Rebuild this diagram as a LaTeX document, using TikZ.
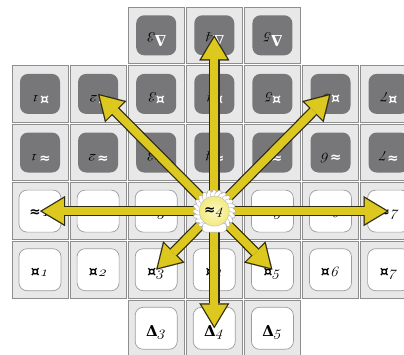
\documentclass[tikz,border=0pt]{standalone}
\usepackage{fontspec}
\usetikzlibrary{arrows.meta}
\newfontfamily\symfont{DejaVu Sans}
\newfontfamily\delfont{DejaVu Serif}
\definecolor{cellfill}{HTML}{E8E8E9}
\definecolor{cellline}{HTML}{8E8E8E}
\definecolor{tiledark}{HTML}{77777A}
\definecolor{tileline}{HTML}{9C9C9C}
\definecolor{arrowfill}{HTML}{DCC81E}
\definecolor{arrowline}{HTML}{2E2A10}
\definecolor{hubfill}{HTML}{F3EA7E}
\definecolor{hublight}{HTML}{FBF7C8}
\newcommand\glyphfont{\fontsize{14}{14}\selectfont}
% slanted old-style index digit (math italic figures)
\newcommand\sdig[1]{\tikz[baseline=0pt]{\pgftransformxslant{0.3}\pgftext[base,left]{\usefont{OML}{cmm}{m}{it}#1}}}
\newcommand\curlbl[1]{{\symfont\bfseries\fontsize{14}{14}\selectfont ¤}\kern0.5pt\sdig{#1}}
\newcommand\apxlbl[1]{{\symfont\bfseries\fontsize{13.5}{13.5}\selectfont ≈}\kern0.8pt\sdig{#1}}
\newcommand\dellbl[1]{{\delfont\bfseries\fontsize{15}{15}\selectfont Δ}\kern0.5pt\sdig{#1}}
\pgfdeclarelayer{grid}
\pgfdeclarelayer{spokes}
\pgfsetlayers{grid,spokes,main}
\begin{document}
\begin{tikzpicture}[x=1pt,y=-1pt,
  cell/.style={draw=cellline, fill=cellfill, line width=0.8pt,
    minimum width=56pt, minimum height=56.6pt, inner sep=0pt},
  darktile/.style={fill=tiledark, rounded corners=8pt, minimum size=40pt, inner sep=0pt},
  lighttile/.style={fill=white, draw=tileline, line width=0.7pt, rounded corners=8pt,
    minimum size=42pt, inner sep=0pt},
  darklabel/.style={text=white, rotate=180, inner sep=0pt, font=\glyphfont},
  lightlabel/.style={text=black, inner sep=0pt, font=\glyphfont},
  arrowback/.style={draw=arrowline, line width=10.5pt,
    -{Triangle[length=25pt,width=30pt,line width=0.1pt]}},
  arrowfront/.style={draw=arrowfill, line width=8pt, shorten >=2.4pt,
    -{Triangle[length=21.4pt,width=25.6pt,line width=0.1pt]}},
  hub/.style={circle, minimum size=30pt, inner sep=0pt, draw=gray!55, line width=0.4pt,
    inner color=hublight, outer color=hubfill, font=\glyphfont},
]
\path[use as bounding box] (0,0) rectangle (404,354);

\begin{pgfonlayer}{grid}
% grid of cells
\foreach \j/\lo/\hi in {0/3/5,1/1/7,2/1/7,3/1/7,4/1/7,5/3/5}{
  \foreach \i in {\lo,...,\hi}{
    \pgfmathsetmacro\cx{40+58.1*(\i-1)}
    \pgfmathsetmacro\cy{35.3+58.6*\j}
    \node[cell] (c-\j-\i) at (\cx,\cy) {};
  }
}
% upper rows: dark tiles with turned labels
\foreach \i in {3,4,5}{
  \node[darktile] (t-0-\i) at (c-0-\i) {};
  \node[darklabel] (l-0-\i) at ([yshift=-5.5pt]t-0-\i.center) {\dellbl{\i}};
}
\foreach \i in {1,...,7}{
  \node[darktile] (t-1-\i) at (c-1-\i) {};
  \node[darklabel] (l-1-\i) at ([yshift=-5.5pt]t-1-\i.center) {\curlbl{\i}};
  \node[darktile] (t-2-\i) at (c-2-\i) {};
  \node[darklabel] (l-2-\i) at ([yshift=-5.5pt]t-2-\i.center) {\apxlbl{\i}};
}
% lower rows: white tiles
\foreach \i in {1,2,3,5,6,7}{
  \node[lighttile] (t-3-\i) at (c-3-\i) {};
  \node[lightlabel] (l-3-\i) at ([yshift=-2pt]t-3-\i.center) {\apxlbl{\i}};
}
\foreach \i in {1,...,7}{
  \node[lighttile] (t-4-\i) at (c-4-\i) {};
  \node[lightlabel] (l-4-\i) at ([yshift=-2.5pt]t-4-\i.center) {\curlbl{\i}};
}
\foreach \i in {3,4,5}{
  \node[lighttile] (t-5-\i) at (c-5-\i) {};
  \node[lightlabel] (l-5-\i) at ([yshift=-3pt]t-5-\i.center) {\dellbl{\i}};
}
\end{pgfonlayer}

% centre piece: wreath, cup and ball
\begin{scope}[shift={(c-3-4.center)}]
  \draw[fill=white, draw=gray!70, line width=0.5pt]
    plot[domain=0:360, samples=97, variable=\a]
      ({(19+2.5*abs(cos(12*\a)))*cos(\a)}, {(19+2.5*abs(cos(12*\a)))*sin(\a)}) -- cycle;
  \foreach \a in {0,15,...,345}
    \draw[gray!60, line width=0.4pt] (\a:15.5) -- (\a+6:20);
  \draw[fill=white, draw=gray!60, line width=0.5pt, rounded corners=3pt]
    (-12,12) rectangle (12,21);
\end{scope}
\node[hub] (hub) at (c-3-4) {\apxlbl{4}};

\begin{pgfonlayer}{spokes}
\foreach \t in {t-0-4,t-1-2,t-1-6,t-3-1,t-3-7,t-4-3,t-4-5,t-5-4}{
  \draw[arrowback] (hub.center) -- (\t.center);
  \draw[arrowfront] (hub.center) -- (\t.center);
}
\end{pgfonlayer}
\end{tikzpicture}
\end{document}
